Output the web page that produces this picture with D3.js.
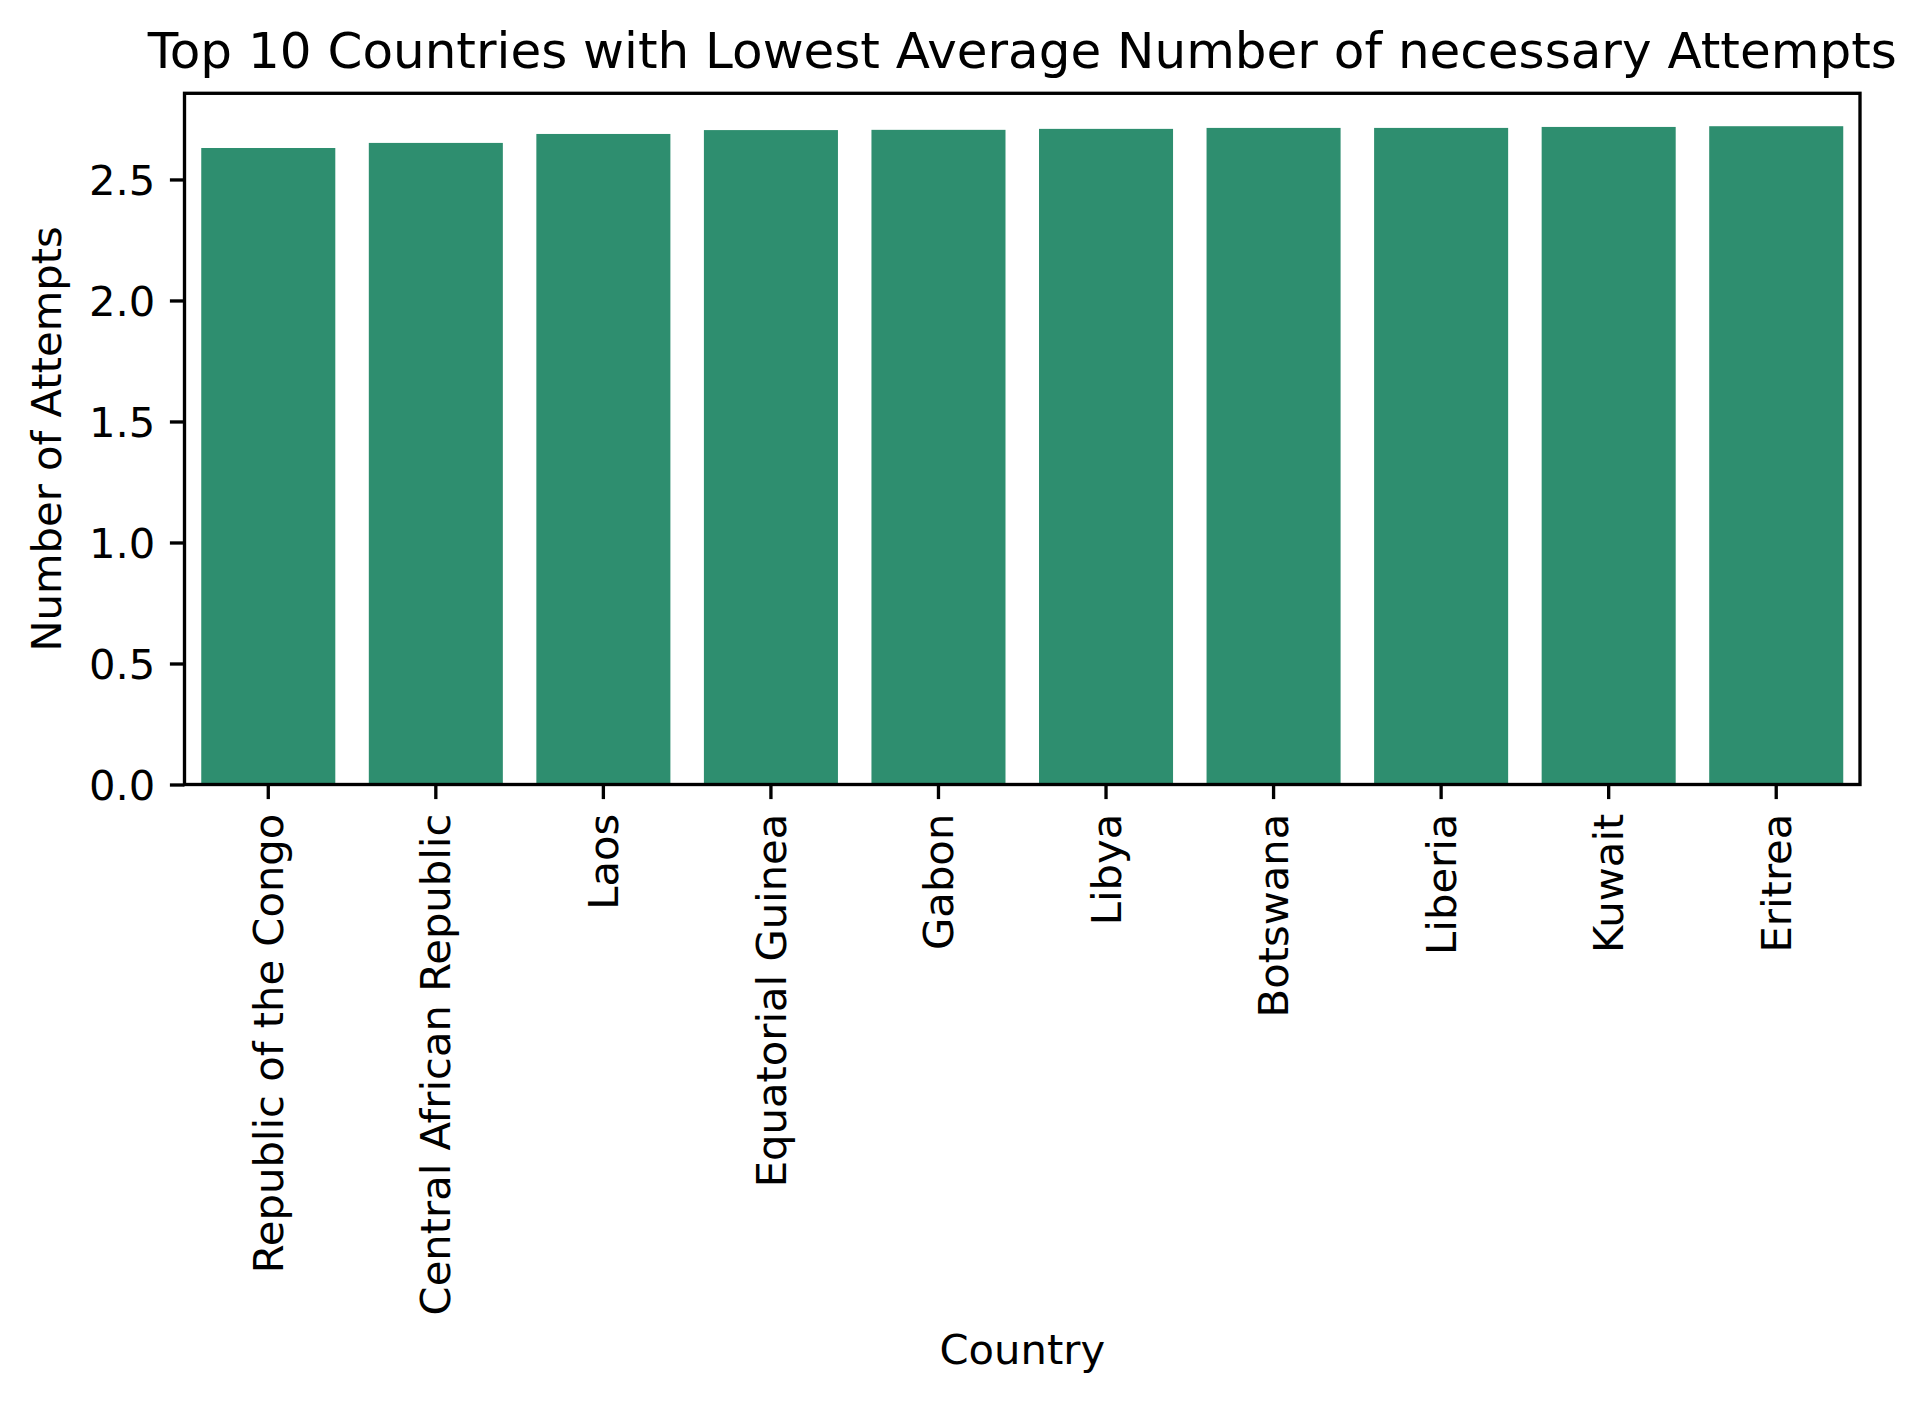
<!DOCTYPE html>
<html>
<head>
<meta charset="utf-8">
<script src="https://cdn.jsdelivr.net/npm/d3@7"></script>
<style>
  body { margin: 0; background: #fff; }
  text { font-family: "DejaVu Sans", sans-serif; fill: #000; }
</style>
</head>
<body>
<script>
// data
var countries = ["Republic of the Congo", "Central African Republic", "Laos",
  "Equatorial Guinea", "Gabon", "Libya", "Botswana", "Liberia", "Kuwait", "Eritrea"];
var attempts = [2.630, 2.651, 2.688, 2.704, 2.705, 2.709, 2.713, 2.713, 2.717, 2.720];
var yTicks = [0, 0.5, 1.0, 1.5, 2.0, 2.5];

var W = 1927, H = 1404;
// plot area (note: "top" is a reserved window prop, so m-prefixed names)
var mLeft = 184.5, mRight = 1860, mTop = 93.3, mBottom = 784.5;
var tickLen = 14.6, tickPad = 14.6;
var barColor = "#2e8e6f";

var svg = d3.select("body").append("svg")
  .attr("width", W)
  .attr("height", H);

var x = d3.scaleBand()
  .domain(countries)
  .range([mLeft, mRight])
  .paddingInner(0.2)
  .paddingOuter(0.1);

var yMax = d3.max(attempts) * 1.05;
var y = d3.scaleLinear()
  .domain([0, yMax])
  .range([mBottom, mTop]);

// bars
svg.selectAll("rect.bar")
  .data(countries)
  .enter().append("rect")
  .attr("class", "bar")
  .attr("x", function (d) { return x(d); })
  .attr("width", x.bandwidth())
  .attr("y", function (d, i) { return y(attempts[i]); })
  .attr("height", function (d, i) { return mBottom - y(attempts[i]); })
  .attr("fill", barColor);

// y axis
var yAxis = svg.append("g")
  .attr("transform", "translate(" + mLeft + ",0)")
  .call(d3.axisLeft(y).tickValues(yTicks).tickFormat(d3.format(".1f"))
    .tickSize(tickLen).tickPadding(tickPad));
yAxis.select(".domain").remove();
yAxis.selectAll(".tick line").attr("stroke", "#000").attr("stroke-width", 3.33);
yAxis.selectAll(".tick text")
  .style("font-size", "41.7px")
  .style("font-family", "DejaVu Sans")
  .attr("dy", "0.35em");

// x axis
var xAxis = svg.append("g")
  .attr("transform", "translate(0," + mBottom + ")")
  .call(d3.axisBottom(x).tickSize(tickLen).tickPadding(tickPad));
xAxis.select(".domain").remove();
xAxis.selectAll(".tick line").attr("stroke", "#000").attr("stroke-width", 3.33);
xAxis.selectAll(".tick text")
  .style("font-size", "41.7px")
  .style("font-family", "DejaVu Sans")
  .attr("transform", "rotate(-90)")
  .attr("text-anchor", "end")
  .attr("x", -(tickLen + tickPad))
  .attr("y", 0)
  .attr("dy", "0.35em");

// frame
svg.append("rect")
  .attr("x", mLeft)
  .attr("y", mTop)
  .attr("width", mRight - mLeft)
  .attr("height", mBottom - mTop)
  .attr("fill", "none")
  .attr("stroke", "#000")
  .attr("stroke-width", 3.33);

// title and labels
svg.append("text")
  .attr("x", (mLeft + mRight) / 2)
  .attr("y", 68)
  .attr("text-anchor", "middle")
  .style("font-size", "50px")
  .text("Top 10 Countries with Lowest Average Number of necessary Attempts");

svg.append("text")
  .attr("x", (mLeft + mRight) / 2)
  .attr("y", 1364)
  .attr("text-anchor", "middle")
  .style("font-size", "41.7px")
  .text("Country");

svg.append("text")
  .attr("transform", "translate(61," + (mTop + mBottom) / 2 + ") rotate(-90)")
  .attr("text-anchor", "middle")
  .style("font-size", "41.7px")
  .text("Number of Attempts");
</script>
</body>
</html>
